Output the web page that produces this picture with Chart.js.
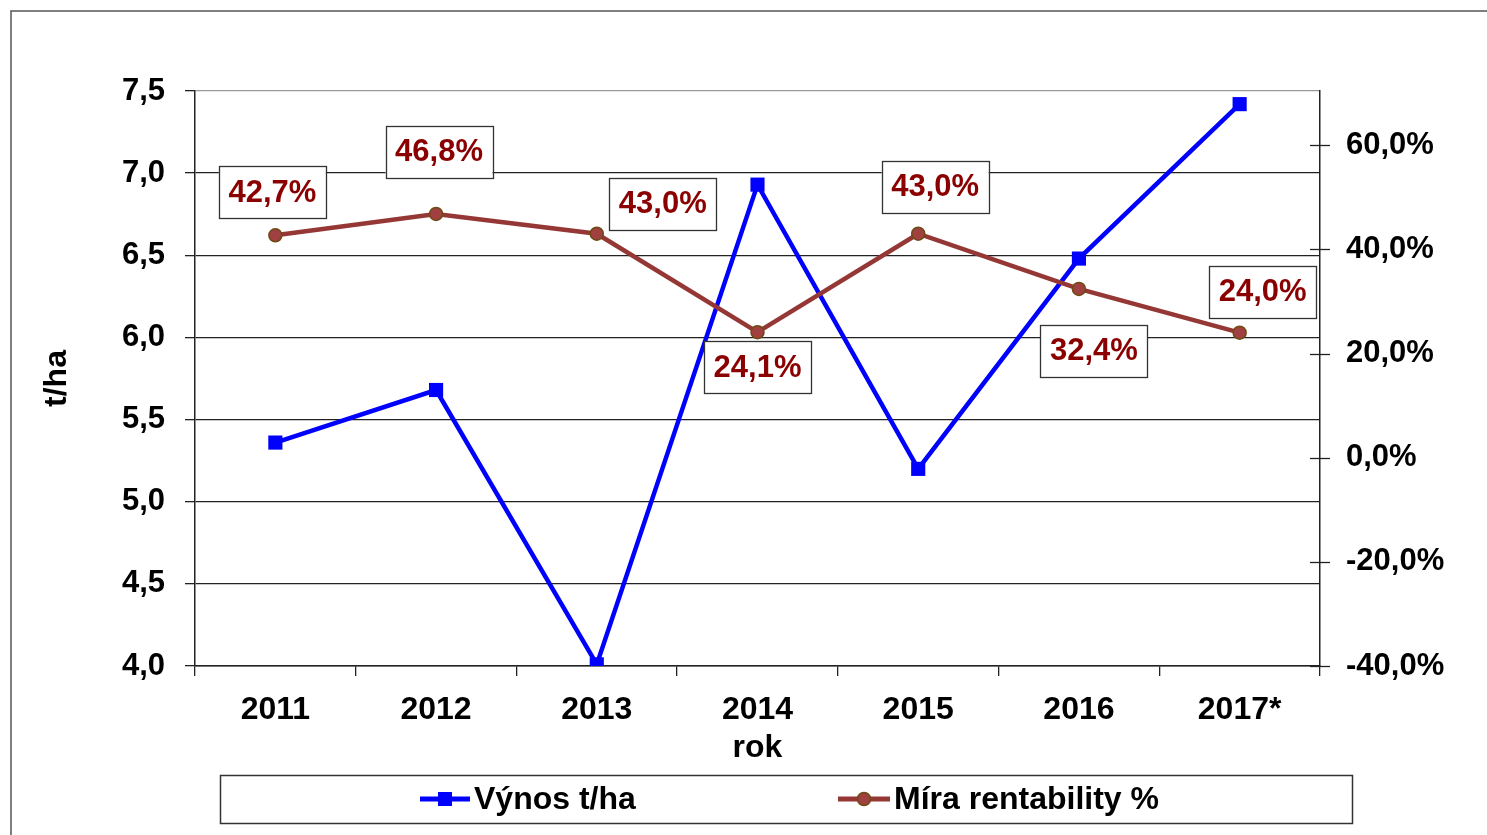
<!DOCTYPE html>
<html><head><meta charset="utf-8">
<script src="https://cdn.jsdelivr.net/npm/chart.js@4.4.0/dist/chart.umd.min.js"></script>
<style>html,body{margin:0;padding:0;background:#fff;overflow:hidden}#wrap{position:relative;width:1487px;height:835px}canvas{display:block}</style>
</head><body><div id="wrap"><canvas id="c" width="1487" height="835"></canvas></div>
<script>
const years = ['2011','2012','2013','2014','2015','2016','2017*'];
const yieldValues = [5.36,5.68,4.01,6.93,5.20,6.48,7.42];
const profitValues = [42.7,46.8,43.0,24.1,43.0,32.4,24.0];
const leftTicks = [4.0,4.5,5.0,5.5,6.0,6.5,7.0,7.5];
const rightTicks = [-40,-20,0,20,40,60];
const labelOffsets = [[-3,-43],[3,-62],[66,-30],[0,35],[17,-47],[15,62],[23,-41]];
const seriesNames = ['Výnos t/ha','Míra rentability %'];

const FAMILY = '"Liberation Sans Narrow", "Arial Narrow", "Liberation Sans", Arial, sans-serif';
const fontY = {family: FAMILY, size: 31, weight: 'bold'};
const fontX = {family: FAMILY, size: 32, weight: 'bold'};
const AX = '#222';
const BLUE = '#0000FF';
const BROWN = '#953735';
const LABEL_RED = '#8B0000';

const fmtComma = v => Number(v).toFixed(1).replace('.', ',');

const framePlugin = {
  id: 'frame',
  beforeDraw(chart) {
    const ctx = chart.ctx;
    ctx.save();
    ctx.strokeStyle = '#555';
    ctx.lineWidth = 1.5;
    ctx.beginPath();
    ctx.moveTo(11, 835); ctx.lineTo(11, 11); ctx.lineTo(1487, 11);
    ctx.stroke();
    ctx.restore();
  }
};

const rightTickPlugin = {
  id: 'rightTicks',
  afterDraw(chart) {
    const s = chart.scales.y1, a = chart.chartArea, ctx = chart.ctx;
    ctx.save();
    ctx.strokeStyle = AX; ctx.lineWidth = 1.3;
    s.ticks.forEach(t => {
      const y = Math.round(s.getPixelForValue(t.value)) + 0.5;
      ctx.beginPath(); ctx.moveTo(a.right - 10, y); ctx.lineTo(a.right + 10, y); ctx.stroke();
    });
    ctx.restore();
  }
};

const labelPlugin = {
  id: 'boxLabels',
  afterDatasetsDraw(chart) {
    const meta = chart.getDatasetMeta(1), ctx = chart.ctx;
    ctx.save();
    ctx.font = `bold 31px ${FAMILY}`;
    ctx.textAlign = 'center'; ctx.textBaseline = 'middle';
    meta.data.forEach((pt, i) => {
      const cx = pt.x + labelOffsets[i][0], cy = pt.y + labelOffsets[i][1];
      const w = 107, h = 52;
      ctx.fillStyle = '#fff';
      ctx.fillRect(cx - w/2, cy - h/2, w, h);
      ctx.strokeStyle = '#333'; ctx.lineWidth = 1.3;
      ctx.strokeRect(Math.round(cx - w/2) + 0.5, Math.round(cy - h/2) + 0.5, w, h);
      ctx.fillStyle = LABEL_RED;
      ctx.fillText(fmtComma(profitValues[i]) + '%', cx, cy + 1);
    });
    ctx.restore();
  }
};

const legendPlugin = {
  id: 'boxLegend',
  afterDraw(chart) {
    const ctx = chart.ctx;
    ctx.save();
    ctx.strokeStyle = '#333'; ctx.lineWidth = 1.5;
    ctx.strokeRect(220.5, 775.5, 1132, 48);
    const yMid = 799;
    ctx.font = `bold 32px ${FAMILY}`;
    ctx.textBaseline = 'middle'; ctx.textAlign = 'left';
    ctx.strokeStyle = BLUE; ctx.lineWidth = 5;
    ctx.beginPath(); ctx.moveTo(420, yMid); ctx.lineTo(470, yMid); ctx.stroke();
    ctx.fillStyle = BLUE; ctx.fillRect(438, yMid - 7, 14, 14);
    ctx.fillStyle = '#000'; ctx.fillText(seriesNames[0], 474, yMid + 1);
    ctx.strokeStyle = BROWN; ctx.lineWidth = 5;
    ctx.beginPath(); ctx.moveTo(838, yMid); ctx.lineTo(890, yMid); ctx.stroke();
    ctx.beginPath(); ctx.arc(864, yMid, 6.5, 0, Math.PI * 2);
    ctx.fillStyle = '#A04040'; ctx.fill();
    ctx.strokeStyle = '#6E4A14'; ctx.lineWidth = 1.5; ctx.stroke();
    ctx.fillStyle = '#000'; ctx.fillText(seriesNames[1], 894, yMid + 1);
    ctx.restore();
  }
};

new Chart(document.getElementById('c'), {
  type: 'line',
  data: {
    labels: years,
    datasets: [
      {label: seriesNames[0], data: yieldValues, yAxisID: 'y', borderColor: BLUE, backgroundColor: BLUE,
       borderWidth: 4.5, pointStyle: 'rect', pointRadius: 10, pointBorderWidth: 0, tension: 0, order: 2},
      {label: seriesNames[1], data: profitValues, yAxisID: 'y1', borderColor: BROWN, backgroundColor: '#A04040',
       borderWidth: 4.5, pointStyle: 'circle', pointRadius: 6.5, pointBorderColor: '#6E4A14', pointBorderWidth: 1.5, tension: 0, order: 1}
    ]
  },
  options: {
    responsive: false,
    animation: false,
    events: [],
    layout: {padding: {top: 91, bottom: 68, left: 0, right: 0}},
    plugins: {legend: {display: false}, tooltip: {enabled: false}},
    scales: {
      x: {
        offset: true,
        grid: {drawOnChartArea: false, offset: true, tickLength: 10, color: AX, lineWidth: 1.3},
        border: {color: AX, width: 1.5},
        ticks: {font: fontX, color: '#000', padding: 15, maxRotation: 0},
        title: {display: true, text: 'rok', font: fontX, color: '#000', padding: {top: 0, bottom: 0}},
        afterFit(s) { s.height = 101; }
      },
      y: {
        position: 'left', min: 4, max: 7.5,
        afterBuildTicks(s) { s.ticks = leftTicks.map(v => ({value: v})); },
        grid: {color: c => (c.tick && c.tick.value === 7.5) ? '#999' : AX, lineWidth: 1.3, tickLength: 10, tickColor: AX},
        border: {color: AX, width: 1.5},
        ticks: {font: fontY, color: '#000', padding: 20, callback: v => fmtComma(v)},
        title: {display: true, text: 't/ha', font: fontX, color: '#000', padding: {top: 38, bottom: 0}},
        afterFit(s) { s.width = 195; }
      },
      y1: {
        position: 'right', min: -40, max: 70.4,
        afterBuildTicks(s) { s.ticks = rightTicks.map(v => ({value: v})); },
        grid: {display: false, drawOnChartArea: false, drawTicks: false},
        border: {display: true, color: AX, width: 1.5},
        ticks: {font: fontY, color: '#000', padding: 26, callback: v => fmtComma(v) + '%'},
        afterFit(s) { s.width = 167; }
      }
    }
  },
  plugins: [framePlugin, rightTickPlugin, labelPlugin, legendPlugin]
});
</script>
</body></html>
